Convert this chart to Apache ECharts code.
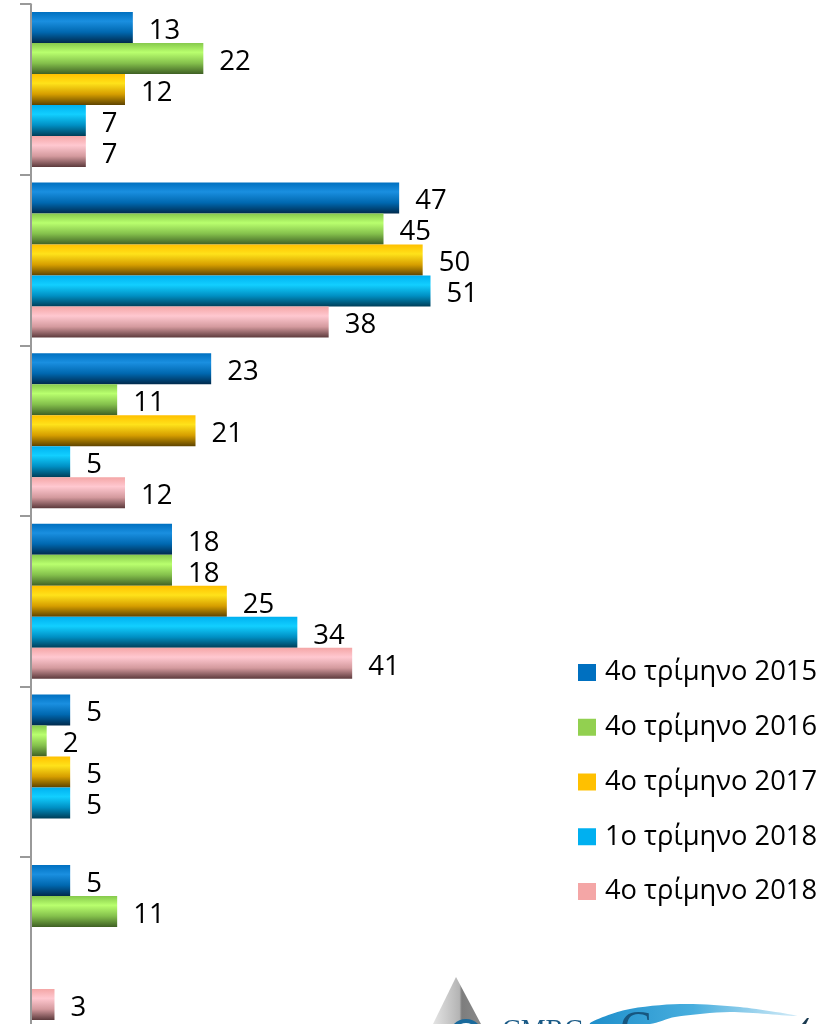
<!DOCTYPE html>
<html><head><meta charset="utf-8">
<style>html,body{margin:0;padding:0;background:#fff;width:838px;height:1024px;overflow:hidden}#w{width:838px;height:1024px;overflow:hidden;position:relative}#c{width:838px;height:1040px}</style>
<script src="https://cdn.jsdelivr.net/npm/echarts@6/dist/echarts.min.js"></script>
</head><body><div id="w"><div id="c"></div></div>
<script>
const categories = ['A','B','C','D','E','F'];
const q4_2015 = [13,47,23,18,5,5];
const q4_2016 = [22,45,11,18,2,11];
const q4_2017 = [12,50,21,25,5,null];
const q1_2018 = [7,51,5,34,5,null];
const q4_2018 = [7,38,12,41,null,3];
const names = ['4ο τρίμηνο 2015','4ο τρίμηνο 2016','4ο τρίμηνο 2017','1ο τρίμηνο 2018','4ο τρίμηνο 2018'];
const flat = ['#0070C0','#92D050','#FFC000','#00B0F0','#F4A6A6'];
const grads = [
 ['#0070c0','#1a8fe0','#0068b0','#002a4c'],
 ['#86c94c','#b9ff6e','#84c04c','#3f6024'],
 ['#ffc000','#ffe21a','#d69e00','#5e4300'],
 ['#00b0f0','#12cfff','#0090c4','#003e58'],
 ['#f4a6a6','#ffc8d0','#d49a9e','#5c3a3c']
];
const FONT = '"Open Sans"';
function grad(g){return {type:'linear',x:0,y:0,x2:0,y2:1,colorStops:[
 {offset:0,color:g[0]},{offset:0.3,color:g[1]},{offset:0.65,color:g[2]},{offset:1,color:g[3]}]};}
const all=[q4_2015,q4_2016,q4_2017,q1_2018,q4_2018];
const chart=echarts.init(document.getElementById('c'),null,{renderer:'canvas'});
chart.setOption({
 animation:false,
 backgroundColor:'#fff',
 grid:{left:31,top:4.2,width:470,height:1023.6,containLabel:false},
 xAxis:{type:'value',min:0,max:60,show:false},
 yAxis:{type:'category',data:categories,inverse:true,z:5,
  axisLine:{show:true,lineStyle:{color:'#999',width:2}},
  axisTick:{show:true,interval:0,length:11,lineStyle:{color:'#999',width:2},alignWithLabel:false},
  axisLabel:{show:false},splitLine:{show:false}},
 legend:{orient:'vertical',left:578,top:657.5,padding:0,itemWidth:18,itemHeight:17,itemGap:24.75,
  icon:'rect',
  textStyle:{fontFamily:FONT,fontSize:27.3,lineHeight:30,color:'#000',padding:[0,0,0,4]},
  data:names.map((n,i)=>({name:n,itemStyle:{color:flat[i]}}))},
 series:names.map((n,i)=>({
  name:n,type:'bar',data:all[i],barWidth:31,barGap:0,
  itemStyle:{color:grad(grads[i])},
  label:{show:true,position:'right',distance:16,offset:[0,3.5],
   fontFamily:FONT,fontSize:27.5,color:'#000'}
 })),
 graphic:[
  {type:'polygon',silent:true,shape:{points:[[456,977],[433,1024],[481,1024]]},
   style:{fill:{type:'linear',x:0,y:0,x2:1,y2:0,colorStops:[{offset:0,color:'#e4e4e4'},{offset:0.55,color:'#b4b4b4'},{offset:0.6,color:'#7d7d7d'},{offset:1,color:'#8a8a8a'}]}}},
  {type:'circle',silent:true,shape:{cx:466,cy:1036,r:15},style:{fill:'#fff',stroke:'#1a6a9c',lineWidth:4}},
  {type:'polygon',silent:true,shape:{smooth:0.3,points:[[590,1024],[625,1010],[680,1004],[740,1007],[797,1016],[730,1012],[675,1017],[650,1024]]},
   style:{fill:{type:'linear',x:0,y:0,x2:1,y2:0,colorStops:[{offset:0,color:'#1f8fcb'},{offset:0.5,color:'#48aede'},{offset:1,color:'#d4ecf8'}]}}},
  {type:'text',silent:true,style:{x:502,y:1017,text:'CMRC',fontFamily:'"Liberation Serif"',fontSize:28,fill:'#1a5a86'}},
  {type:'text',silent:true,style:{x:620,y:1007,text:'C',fontFamily:'"Liberation Serif"',fontSize:48,fill:'#17567f'}},
  {type:'polygon',silent:true,shape:{points:[[807,1018],[802,1024],[806,1024],[809,1018]]},style:{fill:'#1a3a50'}}
 ]
});
</script></body></html>
